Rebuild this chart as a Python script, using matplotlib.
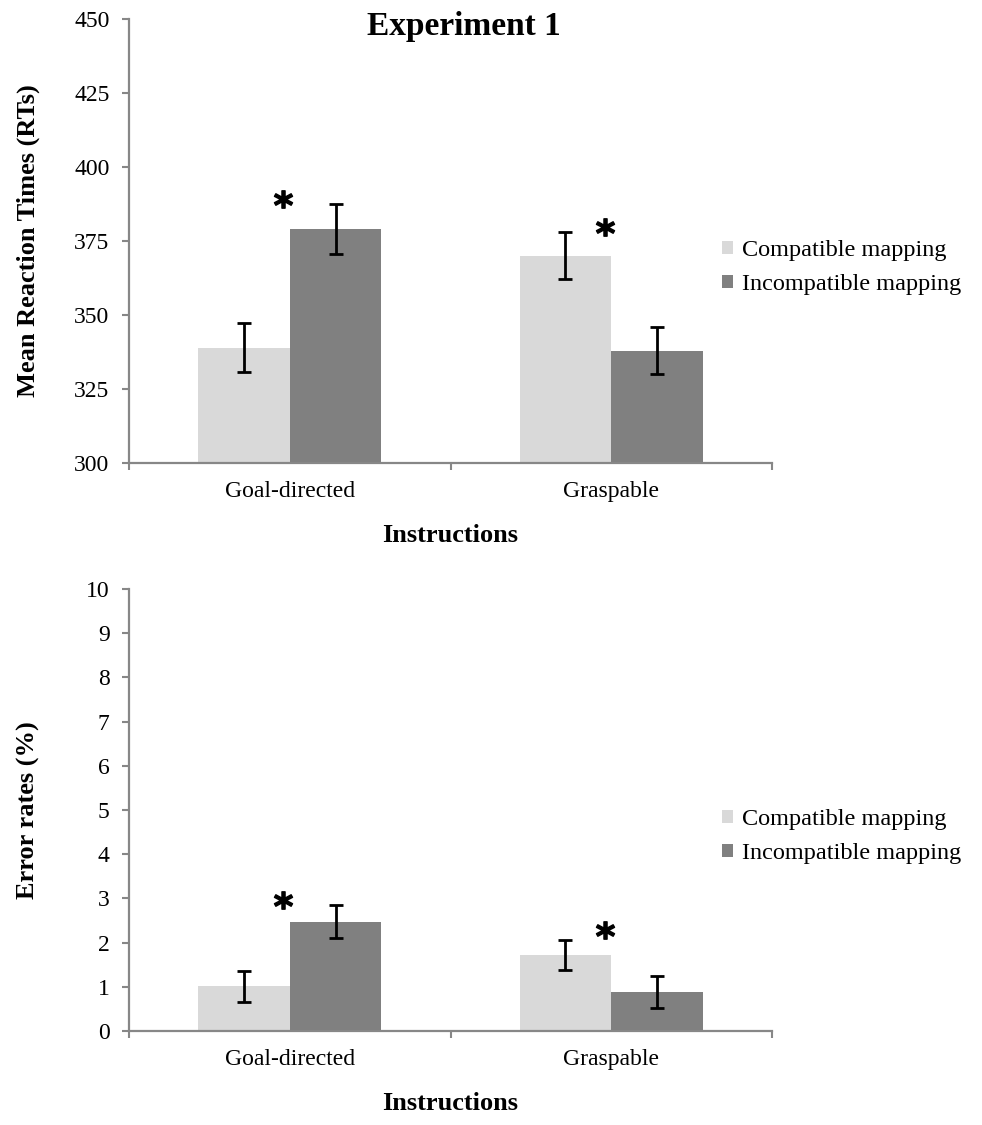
import matplotlib
matplotlib.use("Agg")
import matplotlib.pyplot as plt
import numpy as np
from matplotlib.transforms import offset_copy

# ---------------- data ----------------
categories = ["Goal-directed", "Graspable"]
series_names = ["Compatible mapping", "Incompatible mapping"]

rt_compatible = [339.0, 370.0]
rt_incompatible = [379.0, 338.0]
rt_se_compatible = [8.3, 8.0]
rt_se_incompatible = [8.5, 7.8]

err_compatible = [1.01, 1.73]
err_incompatible = [2.47, 0.88]
err_se_compatible = [0.35, 0.34]
err_se_incompatible = [0.37, 0.37]

rt_ticks = [300, 325, 350, 375, 400, 425, 450]
err_ticks = list(range(0, 11))

# ---------------- style ----------------
plt.rcParams['font.family'] = ['Liberation Serif', 'DejaVu Serif']
LIGHT = "#d9d9d9"
DARK = "#808080"
SPINE = "#878787"
W, H = 982, 1125
fig = plt.figure(figsize=(W / 100, H / 100), dpi=100)


def px_rect(x0, y0, x1, y1):
    return [x0 / W, 1 - y1 / H, (x1 - x0) / W, (y1 - y0) / H]


ax1 = fig.add_axes(px_rect(129, 19, 772, 463))
ax2 = fig.add_axes(px_rect(129, 589, 772, 1031))

bw = 0.285


def draw(ax, comp, incomp, se_c, se_i, ylim, ticks, ylabel, star_off_px):
    x = np.arange(len(categories))
    ax.bar(x - bw / 2, comp, bw, color=LIGHT, label=series_names[0], zorder=2)
    ax.bar(x + bw / 2, incomp, bw, color=DARK, label=series_names[1], zorder=2)
    ax.errorbar(x - bw / 2, comp, yerr=se_c, fmt='none', ecolor='black',
                elinewidth=2, capsize=5, capthick=2, zorder=3)
    ax.errorbar(x + bw / 2, incomp, yerr=se_i, fmt='none', ecolor='black',
                elinewidth=2, capsize=5, capthick=2, zorder=3)
    ax.set_xlim(-0.5, len(categories) - 0.5)
    ax.set_ylim(*ylim)
    ax.set_yticks(ticks)
    ax.set_xticks(x)
    ax.set_xticklabels(categories, fontsize=17)
    ax.set_xticks(np.arange(-0.5, len(categories)), minor=True)
    ax.tick_params(axis='x', which='major', length=0, pad=13)
    ax.tick_params(axis='x', which='minor', length=5, width=1.5,
                   color=SPINE, direction='out')
    ax.tick_params(axis='y', length=5, width=1.5, color=SPINE,
                   direction='out', labelsize=17, pad=9)
    for s in ['top', 'right']:
        ax.spines[s].set_visible(False)
    for s in ['left', 'bottom']:
        ax.spines[s].set_color(SPINE)
        ax.spines[s].set_linewidth(1.6)
    ax.set_xlabel("Instructions", fontsize=19, fontweight='bold', labelpad=16)
    # significance stars
    tops = np.maximum(np.array(comp) + np.array(se_c),
                      np.array(incomp) + np.array(se_i))
    for i, t in enumerate(tops):
        tr = offset_copy(ax.transData, fig=fig, x=0, y=star_off_px[i] * 0.72,
                         units='points')
        ax.plot([i - 0.02], [t], marker=r'$\mathbf{*}$', markersize=13,
                color='black', transform=tr, linestyle='none',
                clip_on=False, zorder=4)
    leg = ax.legend(loc='upper left', frameon=False, fontsize=17.5,
                    handlelength=0.46, handleheight=0.46,
                    handletextpad=0.35, labelspacing=0.55, borderpad=0,
                    borderaxespad=0)
    return leg


draw(ax1, rt_compatible, rt_incompatible, rt_se_compatible,
     rt_se_incompatible, (300, 450), rt_ticks, None, [5, 5])
ax1.get_legend().set_bbox_to_anchor((722 / W, 1 - 240 / H), transform=fig.transFigure)

draw(ax2, err_compatible, err_incompatible, err_se_compatible,
     err_se_incompatible, (0, 10), err_ticks, None, [5, 10])
ax2.get_legend().set_bbox_to_anchor((722 / W, 1 - 809 / H), transform=fig.transFigure)

fig.text(28 / W, 1 - 241 / H, "Mean Reaction Times (RTs)", rotation=90,
         ha='center', va='center', fontsize=19, fontweight='bold')
fig.text(28 / W, 1 - 810 / H, "Error rates (%)", rotation=90,
         ha='center', va='center', fontsize=19, fontweight='bold')
fig.text(464 / W, 1 - 35 / H, "Experiment 1", ha='center', va='baseline',
         fontsize=24, fontweight='bold')

fig.savefig("out.png", dpi=100, facecolor='white')
